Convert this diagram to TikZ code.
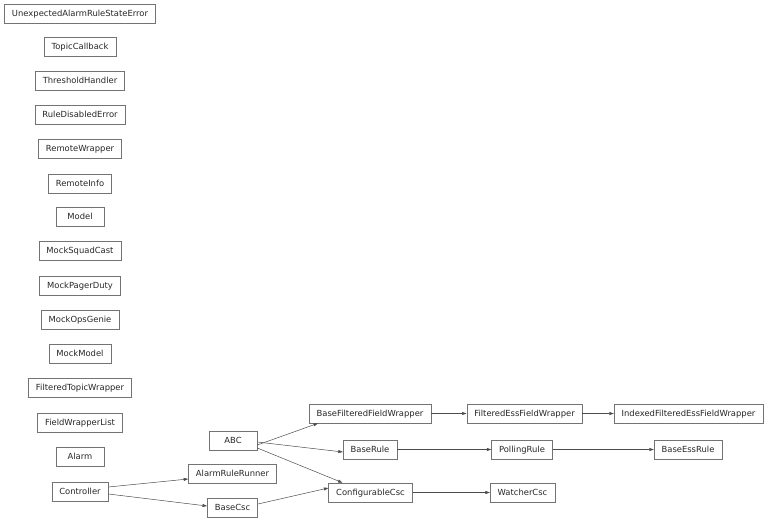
\documentclass[tikz,border=0pt]{standalone}
\usepackage{fontspec}
\setmainfont{DejaVu Sans}
\usetikzlibrary{arrows.meta}
\begin{document}
\begin{tikzpicture}[x=1pt,y=-1pt,
  cls/.style={draw=black!55,line width=0.6pt,rectangle,minimum height=19pt,minimum width=48pt,inner xsep=7.5pt,inner ysep=0pt,text height=6.3pt,text depth=1.2pt,font=\fontsize{8.4}{10}\selectfont,text=black!85},
  inh/.style={draw=black!70,line width=0.5pt,-{Triangle[length=4.5pt,width=3pt]}}]
\useasboundingbox (0,0) rectangle (768,521);
\node[cls] (uare) at (80,13.5) {UnexpectedAlarmRuleStateError};
\node[cls] (tcb) at (80,46.5) {TopicCallback};
\node[cls] (th) at (80,80.5) {ThresholdHandler};
\node[cls] (rde) at (80,115) {RuleDisabledError};
\node[cls] (rw) at (80,149) {RemoteWrapper};
\node[cls] (ri) at (80,183.5) {RemoteInfo};
\node[cls] (model) at (80,216.5) {Model};
\node[cls] (msc) at (80,250.5) {MockSquadCast};
\node[cls] (mpd) at (80,285.5) {MockPagerDuty};
\node[cls] (mog) at (80,319.5) {MockOpsGenie};
\node[cls] (mm) at (80,354) {MockModel};
\node[cls] (ftw) at (80,387.5) {FilteredTopicWrapper};
\node[cls] (fwl) at (80,422.5) {FieldWrapperList};
\node[cls] (alarm) at (80,456.5) {Alarm};
\node[cls] (ctrl) at (80,491.5) {Controller};
\node[cls] (abc) at (233,440.5) {ABC};
\node[cls] (arr) at (232.5,473.5) {AlarmRuleRunner};
\node[cls] (bcsc) at (232.5,508) {BaseCsc};
\node[cls] (bffw) at (370,413.5) {BaseFilteredFieldWrapper};
\node[cls] (brule) at (370,449.5) {BaseRule};
\node[cls] (ccsc) at (370.5,492.5) {ConfigurableCsc};
\node[cls] (fefw) at (524.5,413.5) {FilteredEssFieldWrapper};
\node[cls] (prule) at (522,449.5) {PollingRule};
\node[cls] (wcsc) at (522.5,492.5) {WatcherCsc};
\node[cls] (ifefw) at (688.5,413.5) {IndexedFilteredEssFieldWrapper};
\node[cls] (berule) at (688,449.5) {BaseEssRule};
\draw[inh] ([yshift=-4.5pt]abc.east) -- ([xshift=-52pt]bffw.south);
\draw[inh] ([yshift=-1.5pt]abc.east) -- ([yshift=-2.5pt]brule.west);
\draw[inh] ([yshift=-7.5pt]abc.east) -- ([xshift=-28pt]ccsc.north);
\draw[inh] ([yshift=4.5pt]ctrl.east) -- ([yshift=-5.5pt]arr.west);
\draw[inh] ([yshift=-2.5pt]ctrl.east) -- ([yshift=2pt]bcsc.west);
\draw[inh] ([yshift=4pt]bcsc.east) -- ([yshift=4.5pt]ccsc.west);
\draw[inh] (bffw) -- (fefw);
\draw[inh] (fefw) -- (ifefw);
\draw[inh] (brule) -- (prule);
\draw[inh] (prule) -- (berule);
\draw[inh] (ccsc) -- (wcsc);
\end{tikzpicture}
\end{document}
